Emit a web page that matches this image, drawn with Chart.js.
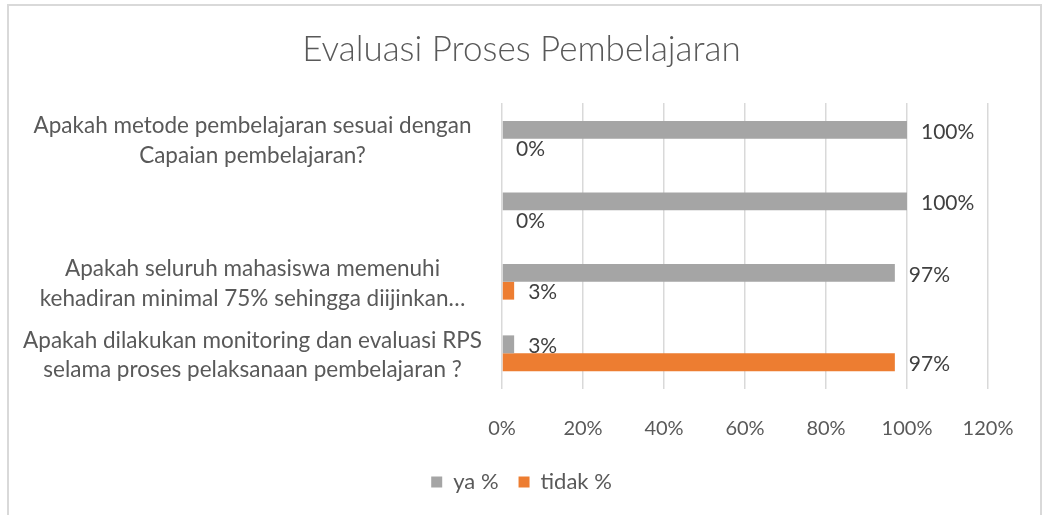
<!DOCTYPE html>
<html>
<head>
<meta charset="utf-8">
<script src="https://cdn.jsdelivr.net/npm/chart.js@4"></script>
<style>
  body { margin: 0; background: #fff; }
  #wrap { position: relative; width: 1043px; height: 515px; }
</style>
</head>
<body>
<div id="wrap"><canvas id="evalChart" width="1043" height="515"></canvas></div>
<script>
const categories = [
    ["Apakah metode pembelajaran sesuai dengan", "Capaian pembelajaran?"],
    "",
    ["Apakah seluruh mahasiswa memenuhi", "kehadiran minimal 75% sehingga diijinkan…"],
    ["Apakah dilakukan monitoring dan evaluasi RPS", "selama proses pelaksanaan pembelajaran ?"]
];
const seriesNames = ["ya %", "tidak %"];
const yaValues = [100, 100, 97, 3];
const tidakValues = [0, 0, 3, 97];
const xTicks = [0, 20, 40, 60, 80, 100, 120];

const FONT = "Lato, 'Open Sans', sans-serif";

// draws the value next to the end of each bar
const barLabels = {
    id: 'barLabels',
    afterDatasetsDraw(chart) {
        const ctx = chart.ctx;
        ctx.save();
        ctx.font = "21px " + FONT;
        ctx.fillStyle = '#404040';
        ctx.textAlign = 'left';
        ctx.textBaseline = 'middle';
        chart.data.datasets.forEach(function (ds, i) {
            chart.getDatasetMeta(i).data.forEach(function (bar, j) {
                ctx.fillText(ds.data[j] + '%', bar.x + 14, bar.y + 2);
            });
        });
        ctx.restore();
    }
};

// light frame around the chart, like the office chart area
const frame = {
    id: 'frame',
    beforeDraw(chart) {
        const ctx = chart.ctx;
        ctx.save();
        ctx.fillStyle = '#fff';
        ctx.fillRect(0, 0, chart.width, chart.height);
        ctx.strokeStyle = '#d9d9d9';
        ctx.lineWidth = 2;
        ctx.strokeRect(8, 5, 1033, 600);
        ctx.restore();
    }
};

new Chart(document.getElementById('evalChart'), {
    type: 'bar',
    data: {
        labels: categories,
        datasets: [
            { label: seriesNames[0], data: yaValues, backgroundColor: '#a5a5a5' },
            { label: seriesNames[1], data: tidakValues, backgroundColor: '#ed7d31' }
        ]
    },
    options: {
        indexAxis: 'y',
        responsive: false,
        animation: false,
        categoryPercentage: 0.5,
        barPercentage: 1.0,
        layout: { padding: { left: 10, right: 10, top: 0, bottom: 12 } },
        scales: {
            x: {
                min: 0,
                max: 120,
                afterBuildTicks: function (scale) {
                    scale.ticks = xTicks.map(v => ({ value: v }));
                },
                afterFit: function (scale) { scale.height = 62; },
                grid: { color: '#d9d9d9', lineWidth: 1.5, drawTicks: false },
                border: { display: false },
                ticks: {
                    padding: 28,
                    color: '#595959',
                    font: { family: FONT, size: 20 },
                    callback: v => v + '%'
                }
            },
            y: {
                afterFit: function (scale) { scale.width = 492; },
                grid: { display: false },
                border: { display: false },
                ticks: {
                    crossAlign: 'center',
                    padding: 12,
                    labelOffset: 2,
                    color: '#595959',
                    font: { family: FONT, size: 22.5, lineHeight: 1.3 }
                }
            },
            // empty right-hand space so title and legend centre on the whole frame
            yRight: {
                type: 'category',
                axis: 'y',
                position: 'right',
                afterFit: function (scale) { scale.width = 45; },
                grid: { display: false },
                border: { display: false },
                ticks: { display: false }
            }
        },
        plugins: {
            title: {
                display: true,
                text: 'Evaluasi Proses Pembelajaran',
                color: '#595959',
                font: { family: FONT, size: 35, weight: '300' },
                padding: { top: 29, bottom: 32 }
            },
            legend: {
                position: 'bottom',
                labels: {
                    boxWidth: 11,
                    boxHeight: 11,
                    padding: 20,
                    color: '#595959',
                    font: { family: FONT, size: 22 }
                }
            },
            tooltip: { enabled: false }
        }
    },
    plugins: [frame, barLabels]
});
</script>
</body>
</html>
